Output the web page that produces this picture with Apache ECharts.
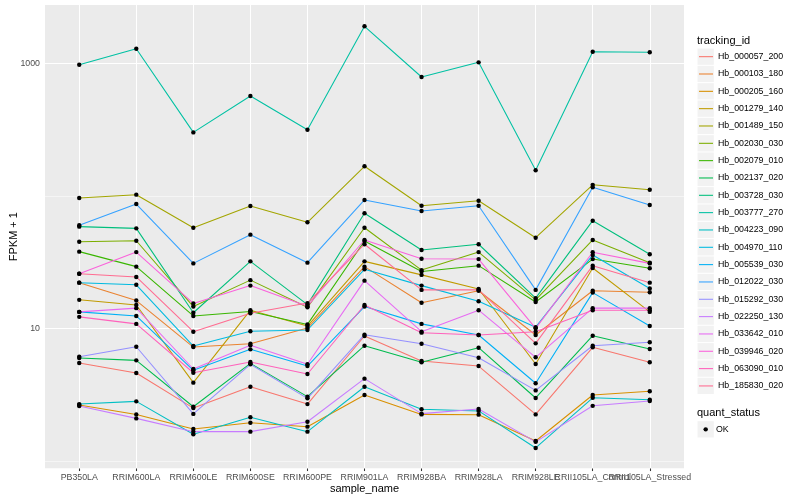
<!DOCTYPE html>
<html><head><meta charset="utf-8">
<script src="https://cdn.jsdelivr.net/npm/echarts@6/dist/echarts.min.js"></script>
<style>html,body{margin:0;padding:0;background:#fff}#c{width:800px;height:500px}</style>
</head><body><div id="c"></div>
<script>
const categories = ['PB350LA','RRIM600LA','RRIM600LE','RRIM600SE','RRIM600PE','RRIM901LA','RRIM928BA','RRIM928LA','RRIM928LE','RRII105LA_Control','RRII105LA_Stressed'];
const trackingIds = ['Hb_000057_200','Hb_000103_180','Hb_000205_160','Hb_001279_140','Hb_001489_150','Hb_002030_030','Hb_002079_010','Hb_002137_020','Hb_003728_030','Hb_003777_270','Hb_004223_090','Hb_004970_110','Hb_005539_030','Hb_012022_030','Hb_015292_030','Hb_022250_130','Hb_033642_010','Hb_039946_020','Hb_063090_010','Hb_185830_020'];
const yTickValues = [10, 1000];

const hb_000057_200 = [5.47, 4.60, 2.50, 3.62, 2.68, 8.75, 5.67, 5.19, 2.24, 7.19, 5.54];
const hb_000103_180 = [22.1, 16.2, 7.22, 7.65, 10.05, 29.2, 15.6, 19.2, 8.90, 19.2, 18.7];
const hb_000205_160 = [2.64, 2.24, 1.74, 1.94, 1.81, 3.14, 2.24, 2.23, 1.41, 3.14, 3.35];
const hb_001279_140 = [16.4, 15.0, 3.89, 13.7, 10.4, 32.0, 25.3, 19.8, 5.38, 28.5, 13.3];
const hb_001489_150 = [96.2, 102, 57.4, 83.8, 63.1, 167, 84.2, 91.8, 48.3, 121, 111];
const hb_002030_030 = [45.0, 45.8, 14.6, 23.1, 14.4, 57.4, 27.5, 37.6, 16.4, 46.4, 31.3];
const hb_002079_010 = [37.9, 29.2, 12.4, 13.4, 10.7, 45.6, 26.8, 29.7, 15.8, 33.3, 28.4];
const hb_002137_020 = [5.97, 5.73, 2.56, 5.44, 3.05, 7.39, 5.54, 7.14, 2.98, 8.79, 6.98];
const hb_003728_030 = [58.5, 56.8, 13.1, 32.0, 15.1, 73.8, 39.0, 43.1, 16.9, 64.9, 36.2];
const hb_003777_270 = [976, 1289, 301, 566, 315, 1902, 788, 1017, 156, 1223, 1211];
const hb_004223_090 = [2.68, 2.81, 1.585, 2.13, 1.66, 3.62, 2.45, 2.38, 1.25, 2.99, 2.89];
const hb_004970_110 = [22.1, 21.3, 7.35, 9.49, 9.71, 27.9, 21.0, 16.0, 10.2, 35.7, 20.0];
const hb_005539_030 = [13.3, 12.4, 4.82, 6.94, 5.19, 14.6, 10.8, 8.90, 3.85, 18.6, 10.4];
const hb_012022_030 = [59.9, 86.7, 30.9, 50.9, 31.3, 93.0, 76.8, 84.2, 19.5, 116, 85.2];
const hb_015292_030 = [6.11, 7.26, 2.26, 5.35, 2.96, 8.95, 7.65, 6.00, 3.40, 7.39, 7.84];
const hb_022250_130 = [2.59, 2.09, 1.66, 1.66, 1.97, 4.17, 2.27, 2.46, 1.39, 2.60, 2.83];
const hb_033642_010 = [13.3, 14.2, 4.93, 7.44, 5.35, 22.9, 9.43, 13.7, 6.04, 14.2, 14.2];
const hb_039946_020 = [25.8, 37.6, 15.4, 21.0, 14.7, 46.4, 33.5, 33.3, 10.0, 37.5, 30.9];
const hb_063090_010 = [12.2, 10.8, 4.62, 5.57, 4.52, 15.0, 9.27, 8.90, 9.43, 13.7, 13.7];
const hb_185830_020 = [25.8, 24.4, 9.43, 13.0, 15.5, 43.1, 19.5, 19.5, 7.70, 29.7, 22.1];

const seriesValues = [hb_000057_200, hb_000103_180, hb_000205_160, hb_001279_140, hb_001489_150, hb_002030_030, hb_002079_010, hb_002137_020, hb_003728_030, hb_003777_270, hb_004223_090, hb_004970_110, hb_005539_030, hb_012022_030, hb_015292_030, hb_022250_130, hb_033642_010, hb_039946_020, hb_063090_010, hb_185830_020];
const colors = ['#F8766D','#EA8331','#D89000','#C09B00','#A3A500','#7CAE00','#39B600','#00BB4E','#00BF7D','#00C1A3','#00BFC4','#00BAE0','#00B0F6','#35A2FF','#9590FF','#C77CFF','#E76BF3','#FA62DB','#FF62BC','#FF6C91'];

const FONT = '"Liberation Sans", Arial, Helvetica, sans-serif';
const chart = echarts.init(document.getElementById('c'), null, {renderer: 'canvas'});

const lineSeries = trackingIds.map((id, k) => ({
  type: 'line', name: id, z: 3,
  data: seriesValues[k].map((v, i) => [i, v]),
  showSymbol: false, symbol: 'none',
  itemStyle: {color: colors[k]},
  lineStyle: {color: colors[k], width: 1.07},
  emphasis: {disabled: true}, animation: false
}));

const points = [];
seriesValues.forEach(arr => arr.forEach((v, i) => points.push([i, v])));

const gridLines = [
  {yAxis: 1, lineStyle: {width: 0.53}},
  {yAxis: 100, lineStyle: {width: 0.53}},
  {yAxis: 10, lineStyle: {width: 1.07}},
  {yAxis: 1000, lineStyle: {width: 1.07}}
].concat(categories.map((c, i) => ({xAxis: i, lineStyle: {width: 1.07}})));

const keyBoxes = [];
for (let i = 0; i < 20; i++) {
  keyBoxes.push({type: 'rect', z: 0, shape: {x: 697.5, y: 48.5 + 17.33 * i, width: 16.3, height: 16.3}, style: {fill: '#F2F2F2'}});
}
keyBoxes.push({type: 'rect', z: 0, shape: {x: 697.5, y: 421.2, width: 16.3, height: 16.3}, style: {fill: '#F2F2F2'}});

const catIdx = categories.map((c, i) => i);
const labelStyle = {color: '#4D4D4D', fontSize: 8.8, fontFamily: FONT, margin: 4.5, hideOverlap: false, showMinLabel: true, showMaxLabel: true,
  formatter: v => categories[Math.round(v)] || ''};

chart.setOption({
  animation: false,
  backgroundColor: '#ffffff',
  graphic: keyBoxes,
  title: [
    {text: 'tracking_id', left: 697, top: 34, padding: 0, textStyle: {fontSize: 11, fontWeight: 'normal', color: '#000', fontFamily: FONT, lineHeight: 13}},
    {text: 'quant_status', left: 697, top: 406, padding: 0, textStyle: {fontSize: 11, fontWeight: 'normal', color: '#000', fontFamily: FONT, lineHeight: 13}}
  ],
  grid: {left: 45, right: 116, top: 5, bottom: 31.7, show: true, backgroundColor: '#EBEBEB', borderWidth: 0, containLabel: false, outerBoundsMode: 'none', z: 0},
  legend: [
    {orient: 'vertical', left: 699, top: 48, padding: 0, itemWidth: 14, itemHeight: 1.07, itemGap: 0, icon: 'rect', z: 5,
     data: trackingIds, selectedMode: false,
     textStyle: {fontSize: 8.8, color: '#000', fontFamily: FONT, lineHeight: 17.33}},
    {orient: 'vertical', left: 703.5, top: 420.7, padding: 0, itemWidth: 4.4, itemHeight: 4.4, itemGap: 0, icon: 'circle', z: 5,
     data: ['OK'], selectedMode: false,
     textStyle: {fontSize: 8.8, color: '#000', fontFamily: FONT, lineHeight: 17.33, padding: [0, 0, 0, 3]}}
  ],
  xAxis: [{
    type: 'value', min: -0.6, max: 10.6, position: 'bottom',
    axisLine: {show: false},
    splitLine: {show: false},
    axisTick: {show: true, length: 2.75, lineStyle: {color: '#333333', width: 1.07}, customValues: catIdx},
    axisLabel: Object.assign({customValues: catIdx.filter(i => i !== 9)}, labelStyle),
    name: 'sample_name', nameLocation: 'middle', nameGap: 15, nameMoveOverlap: false,
    nameTextStyle: {fontSize: 11, color: '#000', fontFamily: FONT}
  }, {
    type: 'value', min: -0.6, max: 10.6, position: 'bottom', gridIndex: 0,
    axisLine: {show: false},
    splitLine: {show: false},
    axisTick: {show: false},
    axisLabel: Object.assign({customValues: [9]}, labelStyle)
  }],
  yAxis: {
    type: 'log', logBase: 10, min: 0.878, max: 2754,
    axisLine: {show: false},
    splitLine: {show: false},
    axisTick: {show: true, length: 2.75, lineStyle: {color: '#333333', width: 1.07}, customValues: yTickValues},
    axisLabel: {customValues: yTickValues, formatter: v => { const r = Math.round(v); return (r === 10 || r === 1000) ? String(r) : ''; }, color: '#4D4D4D', fontSize: 8.8, fontFamily: FONT, margin: 5},
    name: 'FPKM + 1', nameLocation: 'middle', nameGap: 26, nameMoveOverlap: false,
    nameTextStyle: {fontSize: 11, color: '#000', fontFamily: FONT}
  },
  series: [
    {type: 'line', name: '__grid', data: [], z: 1, silent: true,
     markLine: {silent: true, z: 1, symbol: ['none', 'none'], label: {show: false}, animation: false,
       lineStyle: {color: '#FFFFFF', type: 'solid'}, emphasis: {disabled: true}, data: gridLines}}
  ].concat(lineSeries).concat([
    {type: 'scatter', name: 'OK', z: 4, data: points, symbol: 'circle', symbolSize: 4.4,
     itemStyle: {color: '#000000', opacity: 1, borderWidth: 0}, emphasis: {disabled: true}, animation: false}
  ])
});
</script></body></html>
